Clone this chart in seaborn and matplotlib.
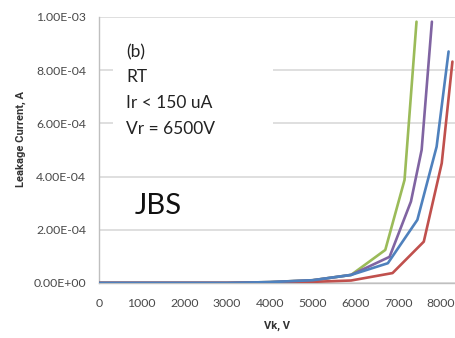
import pandas as pd
import matplotlib
matplotlib.use("Agg")
import matplotlib.pyplot as plt
import seaborn as sns
from matplotlib.patches import Rectangle
from matplotlib.ticker import FuncFormatter, MultipleLocator

# Leakage current (A) vs cathode voltage (V), four JBS devices
vk_green = [0, 1000, 2000, 3000, 4000, 5000, 5900, 6700, 7150, 7430]
ir_green = [0, 0, 0, 0, 3e-6, 1.0e-5, 3.0e-5, 1.24e-4, 3.87e-4, 9.82e-4]

vk_purple = [0, 1000, 2000, 3000, 4000, 5000, 5900, 6800, 7300, 7550, 7790]
ir_purple = [0, 0, 0, 0, 3e-6, 1.0e-5, 3.0e-5, 0.98e-4, 3.06e-4, 5.0e-4, 9.82e-4]

vk_blue = [0, 1000, 2000, 3000, 4000, 5000, 5900, 6760, 7450, 7900, 8180]
ir_blue = [0, 0, 0, 0, 3e-6, 1.0e-5, 3.0e-5, 0.74e-4, 2.37e-4, 5.12e-4, 8.7e-4]

vk_red = [0, 1000, 2000, 3000, 4000, 5000, 5900, 6870, 7600, 8020, 8270]
ir_red = [0, 0, 0, 0, 1e-6, 4e-6, 0.9e-5, 0.37e-4, 1.55e-4, 4.5e-4, 8.32e-4]

df = pd.concat([
    pd.DataFrame({"Vk": vk_green, "Ir": ir_green, "dev": "green"}),
    pd.DataFrame({"Vk": vk_purple, "Ir": ir_purple, "dev": "purple"}),
    pd.DataFrame({"Vk": vk_red, "Ir": ir_red, "dev": "red"}),
    pd.DataFrame({"Vk": vk_blue, "Ir": ir_blue, "dev": "blue"}),
])
colors = {"green": "#9BBB59", "purple": "#8064A2", "red": "#C0504D", "blue": "#4F81BD"}

sns.set_style("white")
plt.rcParams["font.family"] = ["Lato", "DejaVu Sans"]

fig = plt.figure(figsize=(4.55, 3.38), dpi=100)
ax = fig.add_axes([0.217, 0.163, 0.783, 0.787])

sns.lineplot(data=df, x="Vk", y="Ir", hue="dev", palette=colors, sort=False,
             estimator=None, linewidth=1.9, legend=False, ax=ax, zorder=3)

ax.set_xlim(0, 8330)
ax.set_ylim(0, 1e-3)
ax.xaxis.set_major_locator(MultipleLocator(1000))
ax.yaxis.set_major_locator(MultipleLocator(2e-4))
ax.yaxis.set_major_formatter(FuncFormatter(lambda v, p: f"{v:.2E}"))

ax.grid(axis="y", color="#d9d9d9", linewidth=1.2)
ax.set_axisbelow(True)
for s in ["top", "right"]:
    ax.spines[s].set_visible(False)
for s in ["left", "bottom"]:
    ax.spines[s].set_color("#bfbfbf")
    ax.spines[s].set_linewidth(1.0)
ax.tick_params(axis="both", direction="out", length=4, width=1.0, color="#bfbfbf",
               labelsize=8.8, labelcolor="#4a4a4a")
ax.tick_params(axis="x", pad=7)
ax.tick_params(axis="y", pad=5)

lab = dict(fontsize=8, fontweight="bold", color="#333333", family=["Roboto", "DejaVu Sans"])
ax.set_xlabel("Vk, V", labelpad=8, **lab)
ax.set_ylabel("Leakage Current, A", **lab)
ax.yaxis.set_label_coords(-0.205, 0.54)

# white text box behind the condition notes (hides the gridlines there)
ax.add_patch(Rectangle((113 / 455, 1 - 140 / 338), 160 / 455, 104 / 338,
                       transform=fig.transFigure, facecolor="white", edgecolor="none", zorder=1))

info = ["(b)", "RT", "Ir < 150 uA", "Vr = 6500V"]
for i, line in enumerate(info):
    fig.text(126 / 455, 1 - (52 + i * 25.5) / 338, line, fontsize=12.5, color="#222222",
             va="center", ha="left")
fig.text(135 / 455, 1 - 206 / 338, "JBS", fontsize=21, color="#111111", va="center", ha="left")

fig.savefig("out.png", dpi=100)
